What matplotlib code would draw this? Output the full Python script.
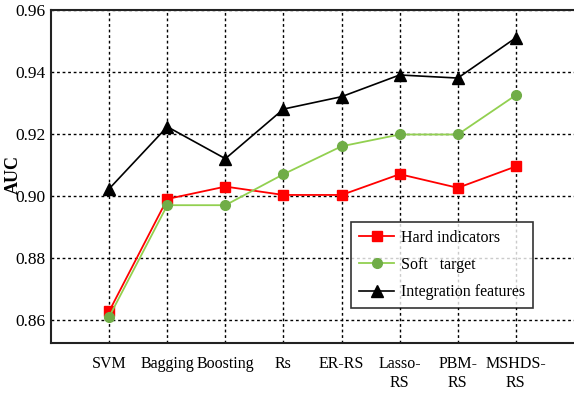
import matplotlib.pyplot as plt

plt.rcParams['font.family'] = ['Liberation Serif', 'DejaVu Serif']

methods = ["SVM", "Bagging", "Boosting", "Rs", "ER-RS", "Lasso-\nRS", "PBM-\nRS", "MSHDS-\nRS"]
hard = [0.8628, 0.899, 0.903, 0.9003, 0.9003, 0.907, 0.9026, 0.9095]
soft = [0.861, 0.897, 0.897, 0.907, 0.916, 0.9198, 0.9198, 0.9325]
integ = [0.9023, 0.9223, 0.912, 0.928, 0.932, 0.939, 0.938, 0.951]
yticks = [0.86, 0.88, 0.90, 0.92, 0.94, 0.96]

fig = plt.figure(figsize=(5.74, 3.94), dpi=100)
ax = fig.add_axes([0.089, 0.129, 0.911, 0.846])

x = range(len(methods))
ax.plot(x, hard, color="red", marker="s", markersize=7.5, lw=1.3, label="Hard indicators")
ax.plot(x, soft, color="#92D050", marker="o", markersize=7, mfc="#70AD47", mec="#70AD47",
        lw=1.3, label="Soft   target")
ax.plot(x, integ, color="black", marker="^", markersize=9, lw=1.2, label="Integration features")

ax.set_xlim(-1, 8)
ax.set_ylim(0.8525, 0.96)
ax.set_xticks(list(x))
ax.set_xticklabels(methods, fontsize=11.5, va="top", linespacing=1.25)
ax.set_yticks(yticks)
ax.set_yticklabels(["%.2f" % v for v in yticks], fontsize=12.5)
ax.tick_params(axis="x", length=0, pad=9)
ax.tick_params(axis="y", length=0, pad=4)
ax.grid(True, color="black", linestyle=(0, (2, 2)), linewidth=1.0)
ax.set_axisbelow(True)
ax.set_ylabel("AUC", fontsize=13, fontweight="bold")
ax.yaxis.set_label_coords(-0.055, 0.505)

for s in ["left", "bottom", "top"]:
    ax.spines[s].set_linewidth(1.5)
    ax.spines[s].set_color("#222222")
ax.spines["right"].set_visible(False)

leg = ax.legend(loc="lower left", bbox_to_anchor=(0.574, 0.105), fontsize=11.5,
                frameon=True, fancybox=False, edgecolor="black", handlelength=2.2,
                borderpad=0.5, labelspacing=0.7, handletextpad=0.4, borderaxespad=0)
leg.get_frame().set_linewidth(1.2)

fig.savefig("out.png", dpi=100)
